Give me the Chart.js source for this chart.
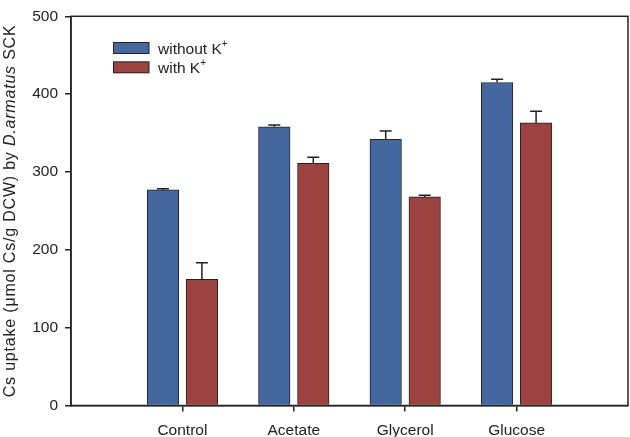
<!doctype html>
<html>
<head>
<meta charset="utf-8">
<title>Cs uptake</title>
<script src="https://cdn.jsdelivr.net/npm/chart.js"></script>
<style>
  html, body { margin: 0; padding: 0; background: #fff; }
  #box { width: 630px; height: 437px; }
</style>
</head>
<body>
<div id="box"><canvas id="chart"></canvas></div>
<script>
const categories = ['Control', 'Acetate', 'Glycerol', 'Glucose'];
const withoutK = [277, 358, 342, 415];
const withoutKErr = [1.5, 2.5, 10.5, 4];
const withK = [162, 311, 268, 363];
const withKErr = [21.5, 8, 2, 15];
const yTicks = [0, 100, 200, 300, 400, 500];

const FONT = '"Liberation Sans", Arial, sans-serif';
const INK = '#222';
const BLUE = '#4467a0';
const RED = '#9c4341';

// x positions 1..4 for the categories on a 0..5 axis
const toPoints = (vals) => vals.map((v, i) => ({ x: i + 1, y: v }));

// upper error bars, drawn through the y scale
const errorBars = {
    id: 'errorBars',
    afterDatasetsDraw(chart) {
        const ctx = chart.ctx;
        const y = chart.scales.y;
        ctx.save();
        ctx.strokeStyle = INK;
        ctx.lineWidth = 1.5;
        chart.data.datasets.forEach((ds, d) => {
            const meta = chart.getDatasetMeta(d);
            meta.data.forEach((bar, i) => {
                const top = y.getPixelForValue(ds.data[i].y + ds.errors[i]);
                ctx.beginPath();
                ctx.moveTo(bar.x, bar.y);
                ctx.lineTo(bar.x, top);
                ctx.moveTo(bar.x - 6, top);
                ctx.lineTo(bar.x + 6, top);
                ctx.stroke();
            });
        });
        ctx.restore();
    }
};

// frame, y title (with italic species name) and legend
const decorations = {
    id: 'decorations',
    afterDraw(chart) {
        const ctx = chart.ctx;
        const a = chart.chartArea;
        ctx.save();
        ctx.strokeStyle = INK;
        ctx.lineWidth = 1.5;
        ctx.strokeRect(a.left, a.top, a.right - a.left, a.bottom - a.top);

        // y axis title
        const parts = [
            ['Cs uptake (μmol Cs/g DCW) by ', 'normal'],
            ['D.armatus', 'italic'],
            [' SCK', 'normal']
        ];
        ctx.letterSpacing = '0.8px';
        let total = 0;
        parts.forEach(p => { ctx.font = p[1] + ' 16px ' + FONT; total += ctx.measureText(p[0]).width; });
        ctx.translate(11, (a.top + a.bottom) / 2);
        ctx.rotate(-Math.PI / 2);
        ctx.fillStyle = INK;
        ctx.textBaseline = 'middle';
        let x = -total / 2;
        parts.forEach(p => {
            ctx.font = p[1] + ' 16px ' + FONT;
            ctx.fillText(p[0], x, 0);
            x += ctx.measureText(p[0]).width;
        });
        ctx.restore();

        // legend
        ctx.save();
        chart.data.datasets.forEach((ds, d) => {
            const top = 42 + d * 19.3;
            ctx.fillStyle = INK;
            ctx.fillRect(113, top, 36.5, 12);
            ctx.fillStyle = ds.backgroundColor;
            ctx.fillRect(114, top + 1, 34.5, 10);
            ctx.fillStyle = INK;
            ctx.textBaseline = 'alphabetic';
            ctx.font = '15.5px ' + FONT;
            const base = ds.label.replace('+', '');
            ctx.fillText(base, 158, top + 12);
            const w = ctx.measureText(base).width;
            ctx.font = '10px ' + FONT;
            ctx.fillText('+', 158 + w, top + 5);
        });
        ctx.restore();
    }
};

new Chart(document.getElementById('chart'), {
    type: 'bar',
    data: {
        labels: categories,
        datasets: [{
            label: 'without K+',
            data: toPoints(withoutK),
            errors: withoutKErr,
            backgroundColor: BLUE,
            borderColor: INK,
            borderWidth: 1
        }, {
            label: 'with K+',
            data: toPoints(withK),
            errors: withKErr,
            backgroundColor: RED,
            borderColor: INK,
            borderWidth: 1
        }]
    },
    options: {
        responsive: true,
        maintainAspectRatio: false,
        animation: false,
        barThickness: 39,
        maxBarThickness: 31.5,
        layout: { padding: { top: 5.5, right: 2, left: 0, bottom: 0 } },
        plugins: {
            legend: { display: false },
            tooltip: { enabled: false }
        },
        scales: {
            x: {
                type: 'linear',
                min: 0,
                max: 5,
                offset: false,
                afterBuildTicks: s => { s.ticks = categories.map((c, i) => ({ value: i + 1 })); },
                afterFit: s => { s.height = 31.5; },
                ticks: {
                    callback: v => categories[v - 1],
                    color: INK,
                    font: { family: FONT, size: 15.5 },
                    padding: 10,
                    maxRotation: 0
                },
                grid: { offset: false, drawOnChartArea: false, tickLength: 6, color: INK, lineWidth: 1.5 },
                border: { color: INK, width: 1.5 }
            },
            y: {
                min: 0,
                max: 500,
                afterBuildTicks: s => { s.ticks = yTicks.map(v => ({ value: v })); },
                afterFit: s => { s.width = 71; },
                ticks: {
                    color: INK,
                    font: { family: FONT, size: 15.5 },
                    padding: 7
                },
                grid: { drawOnChartArea: false, tickLength: 6, color: INK, lineWidth: 1.5 },
                border: { color: INK, width: 1.5 }
            }
        }
    },
    plugins: [errorBars, decorations]
});
</script>
</body>
</html>
